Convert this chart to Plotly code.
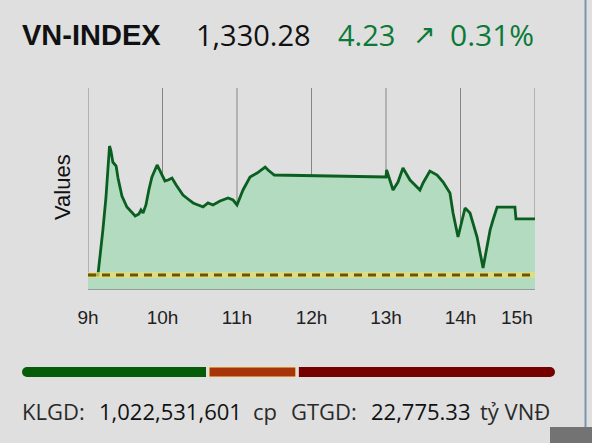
import pandas as pd
import plotly.graph_objects as go

# --- data ---
SESSION_DAY = "2024-01-01"
times = [
    "09:00:00", "09:08:00", "09:12:00", "09:14:30", "09:17:20", "09:18:30",
    "09:20:00", "09:22:40", "09:24:10", "09:27:20", "09:31:20", "09:34:40",
    "09:38:00", "09:41:00", "09:42:40", "09:44:20", "09:46:40", "09:49:00",
    "09:51:30", "09:55:40", "09:58:00", "10:02:00", "10:04:30", "10:07:40",
    "10:11:00", "10:16:30", "10:20:30", "10:24:40", "10:28:40", "10:32:40",
    "10:36:40", "10:40:40", "10:46:20", "10:52:50", "10:56:50", "11:00:00",
    "11:04:50", "11:10:30", "11:16:10", "11:22:40", "11:25:00", "11:30:00",
    "13:00:00", "13:00:30", "13:05:40", "13:09:40", "13:13:40", "13:19:20",
    "13:23:20", "13:27:20", "13:29:50", "13:35:20", "13:41:10", "13:46:00",
    "13:51:30", "13:54:00", "13:58:00", "14:03:40", "14:07:40", "14:13:20",
    "14:18:10", "14:23:50", "14:26:10", "14:29:30", "14:43:50", "14:44:40",
    "15:00:00",
]
index_values = [
    1326.05, 1326.05, 1329.45, 1331.94, 1335.79, 1335.41,
    1334.58, 1334.28, 1333.37, 1332.01, 1331.18, 1330.81,
    1330.50, 1330.66, 1330.96, 1330.73, 1331.34, 1332.47,
    1333.45, 1334.36, 1333.90, 1333.15, 1333.22, 1333.37,
    1332.85, 1332.09, 1331.79, 1331.49, 1331.34, 1331.19,
    1331.49, 1331.34, 1331.64, 1331.86, 1331.71, 1331.34,
    1332.47, 1333.45, 1333.75, 1334.20, 1333.98, 1333.60,
    1333.45, 1333.98, 1332.47, 1333.07, 1334.13, 1333.22,
    1332.85, 1332.47, 1333.00, 1333.90, 1333.60, 1333.07,
    1332.24, 1330.73, 1328.92, 1331.11, 1330.73, 1328.92,
    1326.58, 1329.45, 1330.20, 1331.18, 1331.18, 1330.28,
    1330.28,
]
REFERENCE = 1326.05
hour_ticks = ["09:00", "10:00", "11:00", "12:00", "13:00", "14:00", "15:00"]
hour_labels = ["9h", "10h", "11h", "12h", "13h", "14h", ""]

index_name = "VN-INDEX"
last_value = "1,330.28"
change = "4.23"
change_pct = "0.31%"
volume = "1,022,531,601"
turnover = "22,775.33"

# advancing / unchanged / declining counts for the breadth bar
breadth = [125, 59, 174]
breadth_colors = ["#075c07", "#a8340a", "#760000"]

# --- layout geometry (pixels in the 592x443 page) ---
W, H = 592, 443
PL, PR, PT, PB = 88, 535, 88, 289
PX_PER_POINT = 0.0755


def px(x):
    return (x - PL) / (PR - PL)


def py(y):
    return (PB - y) / (PB - PT)


t = pd.to_datetime([f"{SESSION_DAY} {s}" for s in times])
tick_t = pd.to_datetime([f"{SESSION_DAY} {s}" for s in hour_ticks])

fig = go.Figure()

fig.add_trace(go.Scatter(
    x=t, y=index_values,
    mode="lines",
    line=dict(color="#0a5e20", width=2.8),
    fill="tozeroy",
    fillcolor="#b2dbc0",
    hoverinfo="x+y",
    showlegend=False,
))

shapes = []
# hour gridlines (drawn as shapes so the 9h / 15h edges show too)
for tv in tick_t:
    shapes.append(dict(type="line", xref="x", yref="paper", x0=tv, x1=tv,
                       y0=0, y1=1, layer="below",
                       line=dict(color="#858585", width=1)))
# reference line with its yellow glow
shapes.append(dict(type="line", xref="paper", yref="y", x0=0, x1=1,
                   y0=REFERENCE, y1=REFERENCE,
                   line=dict(color="rgba(240,222,110,0.7)", width=6)))
shapes.append(dict(type="line", xref="paper", yref="y", x0=0, x1=1,
                   y0=REFERENCE, y1=REFERENCE,
                   line=dict(color="#6a5608", width=3, dash="8px,6px")))

# breadth bar
bar_l, bar_r, bar_t, bar_b, gap = 22, 555, 367, 377, 3
span = bar_r - bar_l - gap * (len(breadth) - 1)
x = bar_l
edges = []
for n in breadth:
    w = span * n / sum(breadth)
    edges.append((x, x + w))
    x += w + gap
r = (bar_b - bar_t) / 2
for i, ((a, b), col) in enumerate(zip(edges, breadth_colors)):
    a2 = a + r if i == 0 else a
    b2 = b - r if i == len(edges) - 1 else b
    shapes.append(dict(type="rect", xref="paper", yref="paper",
                       x0=px(a2), x1=px(b2), y0=py(bar_b), y1=py(bar_t),
                       fillcolor=col,
                       line=dict(color="#efe2a0" if i == 1 else col, width=1 if i == 1 else 0)))
for (cx, col) in [(edges[0][0] + r, breadth_colors[0]), (edges[-1][1] - r, breadth_colors[-1])]:
    shapes.append(dict(type="circle", xref="paper", yref="paper",
                       x0=px(cx - r), x1=px(cx + r), y0=py(bar_b), y1=py(bar_t),
                       fillcolor=col, line=dict(width=0)))

# screenshot frame on the right
shapes.append(dict(type="line", xref="paper", yref="paper",
                   x0=px(585.5), x1=px(585.5), y0=py(0), y1=py(H),
                   line=dict(color="#7c94ae", width=2)))
shapes.append(dict(type="rect", xref="paper", yref="paper",
                   x0=px(550), x1=px(600), y0=py(450), y1=py(427),
                   fillcolor="#737373", line=dict(width=0)))


def note(text, x, y, size, color="#111111", family="Open Sans", xanchor="left", angle=0):
    return dict(text=text, x=px(x), y=py(y), xref="paper", yref="paper",
                xanchor=xanchor, yanchor="middle", showarrow=False, textangle=angle,
                font=dict(size=size, color=color, family=family))


annotations = [
    note(f"<b>{index_name}</b>", 20, 35, 29, family="Liberation Sans"),
    note(last_value, 194, 35, 29),
    note(change, 336, 35, 29, color="#0a7a36"),
    note("\u2197", 411, 35, 27, color="#0a7a36", family="DejaVu Sans"),
    note(change_pct, 448, 35, 30, color="#0a7a36"),
    note("Values", 62, 187, 22, family="Liberation Sans", xanchor="center", angle=-90),
    note("15h", 535, 317, 19, color="#222222", family="Liberation Sans", xanchor="right"),
    note("KLGD:", 20, 411, 22, color="#2a2a2a"),
    note(volume, 97, 411, 22),
    note("cp", 251, 411, 22, color="#2a2a2a"),
    note("GTGD:", 289, 411, 22, color="#2a2a2a"),
    note(turnover, 369, 411, 22),
    note("tỷ VNĐ", 478, 411, 22, color="#2a2a2a"),
]

fig.update_layout(
    width=W, height=H,
    margin=dict(l=PL, r=W - PR, t=PT, b=H - PB, pad=0),
    paper_bgcolor="#dfdfdf",
    plot_bgcolor="#dfdfdf",
    xaxis=dict(
        type="date",
        range=[tick_t[0], tick_t[-1]],
        tickvals=tick_t, ticktext=hour_labels,
        showgrid=False,
        showline=True, linecolor="#9a9a9a", linewidth=1,
        ticks="outside", ticklen=11, tickcolor="rgba(0,0,0,0)",
        tickfont=dict(family="Liberation Sans", size=19, color="#222222"),
        zeroline=False,
    ),
    yaxis=dict(
        range=[REFERENCE - 14 * PX_PER_POINT, REFERENCE + 187 * PX_PER_POINT],
        showgrid=False, showticklabels=False, zeroline=False, showline=False,
    ),
    shapes=shapes,
    annotations=annotations,
    showlegend=False,
)

fig.write_html(
    "out.html",
    config={"displayModeBar": False},
    post_script="document.body.style.margin='0';document.body.style.background='#dfdfdf';",
)
